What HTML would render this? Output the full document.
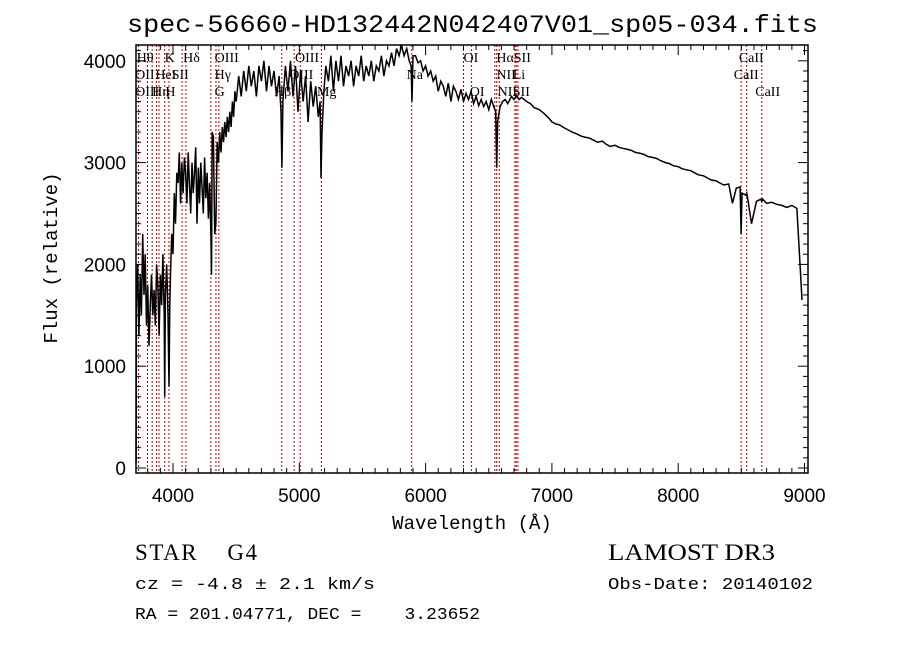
<!DOCTYPE html>
<html><head><meta charset="utf-8"><style>
html,body{margin:0;padding:0;background:#fff;}
svg{display:block;}
.serif{font-family:"Liberation Serif",serif;}
.mono{font-family:"Liberation Mono",monospace;}
.sans{font-family:"Liberation Sans",sans-serif;}
</style></head><body>
<svg id="chart" width="900" height="649" viewBox="0 0 900 649" xmlns="http://www.w3.org/2000/svg">
<rect width="900" height="649" fill="#fff"/>
<text class="mono" x="127" y="32" font-size="25" textLength="691" lengthAdjust="spacingAndGlyphs">spec-56660-HD132442N042407V01_sp05-034.fits</text>
<g id="lines"></g>
<g id="linelabels"></g>
<g id="spec"></g>
<g id="axes"></g>
<text class="mono" x="472" y="529" font-size="19" text-anchor="middle">Wavelength (Å)</text>
<text class="mono" font-size="19" text-anchor="middle" transform="translate(57,258) rotate(-90)">Flux (relative)</text>
<text class="serif" x="135" y="560" font-size="23" xml:space="preserve" textLength="122" lengthAdjust="spacing">STAR    G4</text>
<text class="serif" x="608" y="560" font-size="23" textLength="167" lengthAdjust="spacingAndGlyphs">LAMOST DR3</text>
<text class="mono" x="135" y="589" font-size="17" textLength="240" lengthAdjust="spacingAndGlyphs">cz = -4.8 ± 2.1 km/s</text>
<text class="mono" x="608" y="589" font-size="17" textLength="205" lengthAdjust="spacingAndGlyphs">Obs-Date: 20140102</text>
<text class="mono" x="135" y="619" font-size="17" xml:space="preserve" textLength="345" lengthAdjust="spacingAndGlyphs">RA = 201.04771, DEC =    3.23652</text>
</svg>
<script>
const wavelengths = [3708,3710,3720,3730,3740,3750,3760,3770,3780,3790,3800,3810,3820,3830,3840,3850,3860,3870,3880,3890,3900,3910,3920,3930,3934,3940,3950,3960,3968,3975,3980,3990,4000,4010,4020,4030,
4040,4050,4060,4070,4080,4090,4100,4110,4120,4130,4140,4150,4160,4170,4180,4190,4200,4210,4220,4230,4240,4250,4260,4270,4280,4290,4300,4305,4310,4320,4330,4340,4350,4360,4370,4380,4390,4400,4410,4420,4430,4440,4450,4460,4470,4480,4490,4500,4520,4540,4560,4580,4600,4620,4640,4660,4680,4700,4720,4740,4760,4780,4800,4820,4840,4855,4862,4870,4890,4910,4930,4950,4970,4990,5010,5030,5050,5070,5090,5110,5130,5150,5165,5172,5180,5195,5210,5230,5250,5270,5290,5310,5330,5350,5370,5390,5410,5430,5450,5470,5490,5510,5530,5550,5570,5590,5610,5630,5650,5670,5690,5710,5730,5750,5770,5790,5810,5830,5850,5870,5885,5892,5900,5920,5940,5960,5980,6000,6020,6040,6060,6080,6100,6120,6140,6160,6180,6200,6220,6240,6260,6280,6300,6320,6340,6360,6380,6400,6420,6440,6460,6480,6500,6520,6540,6555,6563,6570,6590,6610,6630,6650,6680,6700,6720,6740,6760,6800,6830,6860,6900,6940,6980,7000,7030,7060,7100,7130,7160,7200,7230,7260,7300,7330,7360,7400,7430,7460,7500,7530,7560,7600,7630,7660,7700,7730,7760,7800,7830,7860,7900,7930,7960,8000,8030,8060,8100,8130,8160,8200,8230,8260,8300,8330,8360,8400,8430,8460,8490,8498,8505,8535,8542,8550,8580,8620,8655,8662,8670,8700,8740,8780,8820,8860,8900,8940,8980,9000,9025,9030];
const fluxes = [50,1600,2000,1300,1900,1500,2300,1700,2100,1400,1800,1200,1600,1900,1500,1750,1400,2000,1800,1300,1900,1600,2100,1500,700,1700,2000,1500,800,1600,1900,2300,2100,2700,2400,2900,
2800,3100,2600,3000,2700,3050,2900,2600,3100,2800,2500,3000,2700,2900,3150,2400,2950,2600,3000,2750,2500,3050,2650,2900,2450,2800,2300,1900,3300,3250,2300,2400,3200,3000,3300,3100,3350,3200,3400,3250,3450,3300,3500,3350,3600,3450,3700,3600,3850,3650,3900,3700,3950,3750,3900,3650,3950,3800,4000,3700,3950,3750,3900,3650,3850,3500,2950,3600,3950,3700,4000,3650,3950,3500,3900,3600,3850,3400,3800,3550,3750,3450,3600,2850,3300,3700,3950,3800,4050,3700,4000,3800,4050,3750,3950,3850,4000,3750,3950,3850,4050,3800,3950,3850,4000,3800,3950,3900,4050,3850,4000,3950,4080,3950,4120,4050,4150,4050,4120,4000,3950,3600,4050,4050,3980,4000,3900,3950,3850,3900,3800,3850,3700,3800,3750,3650,3780,3600,3750,3700,3620,3720,3600,3680,3620,3700,3580,3650,3560,3620,3550,3600,3520,3620,3550,3500,2950,3400,3550,3600,3620,3580,3650,3620,3660,3620,3640,3600,3580,3540,3520,3480,3430,3400,3380,3370,3340,3320,3300,3280,3260,3250,3240,3220,3200,3210,3180,3160,3170,3150,3140,3130,3120,3100,3090,3080,3060,3050,3040,3020,3000,2990,2970,2960,2940,2930,2920,2900,2880,2870,2850,2830,2820,2800,2780,2790,2600,2750,2760,2300,2700,2680,2700,2650,2400,2620,2640,2620,2640,2600,2610,2590,2580,2560,2580,2550,1650];
const lineWls = [3727,3798,3835,3869,3889,3934,3968,4072,4102,4300,4340,4363,4861,4959,5007,5175,5890,6300,6364,6548,6563,6583,6707,6717,6731,8498,8542,8662];
const lineLabels = [["Hθ",3713,0],["K",3934,0],["Hδ",4080,0],["OIII",4330,0],["OIII",4966,0],["OI",6300,0],["HαSII",6560,0],["CaII",8480,0],
["OII",3700,1],["HeI",3860,1],["SII",3990,1],["Hγ",4330,1],["Na",5850,1],["NII",6560,1],["Li",6690,1],["CaII",8440,1],["OIII",4920,1],
["OIII",3700,2],["Hη",3835,2],["H",3940,2],["G",4330,2],["Hβ",4800,2],["Mg",5140,2],["OI",6350,2],["NII",6570,2],["SII",6690,2],["CaII",8610,2]];
const yTicks = [0,1000,2000,3000,4000];
const xTicks = [4000,5000,6000,7000,8000,9000];

const L=136,R=808,T=45,B=473;
const X=w=>L+(w-3707)*0.1263;
const Y=f=>468-f*0.1018;
const NS="http://www.w3.org/2000/svg";
function mk(tag,parent,attrs){const e=document.createElementNS(NS,tag);for(const k in attrs)e.setAttribute(k,attrs[k]);parent.appendChild(e);return e;}

const gl=document.getElementById('lines');
lineWls.forEach(w=>{
  const l=mk('line',gl,{x1:X(w),x2:X(w),y1:T,y2:B,stroke:'#c00000','stroke-width':1,'stroke-dasharray':'2,2'});
  
  
});
const gll=document.getElementById('linelabels');
lineLabels.forEach(([t,w,r])=>{
  const e=mk('text',gll,{x:X(w),y:62+r*17,'font-size':14,class:'serif'});
  e.textContent=t;
  
  
});
const gs=document.getElementById('spec');
let pts=wavelengths.map((w,i)=>X(w).toFixed(1)+','+Y(fluxes[i]).toFixed(1)).join(' ');
const pl=mk('polyline',gs,{points:pts,fill:'none',stroke:'#000','stroke-width':1.5});



const ga=document.getElementById('axes');
const box=mk('rect',ga,{x:L,y:T,width:R-L,height:B-T,fill:'none',stroke:'#000','stroke-width':1.5});


for(let w=3800;w<=9000;w+=100){
  const major=w%1000===0,len=major?10:5,x=X(w);
  mk('line',ga,{x1:x,x2:x,y1:B,y2:B-len,stroke:'#000','stroke-width':1});
  mk('line',ga,{x1:x,x2:x,y1:T,y2:T+len,stroke:'#000','stroke-width':1});
}
for(let f=0;f<=4100;f+=100){
  const major=f%1000===0,len=major?10:5,y=Y(f);
  mk('line',ga,{x1:L,x2:L+len,y1:y,y2:y,stroke:'#000','stroke-width':1});
  mk('line',ga,{x1:R,x2:R-len,y1:y,y2:y,stroke:'#000','stroke-width':1});
}
yTicks.forEach(f=>{
  const e=mk('text',ga,{x:L-10,y:Y(f)+7,'font-size':19,'text-anchor':'end',class:'sans'});
  e.textContent=f;
  
  
});
xTicks.forEach(w=>{
  const e=mk('text',ga,{x:X(w),y:502,'font-size':19,'text-anchor':'middle',class:'sans'});
  e.textContent=w;
  
  
});
</script>
</body></html>
